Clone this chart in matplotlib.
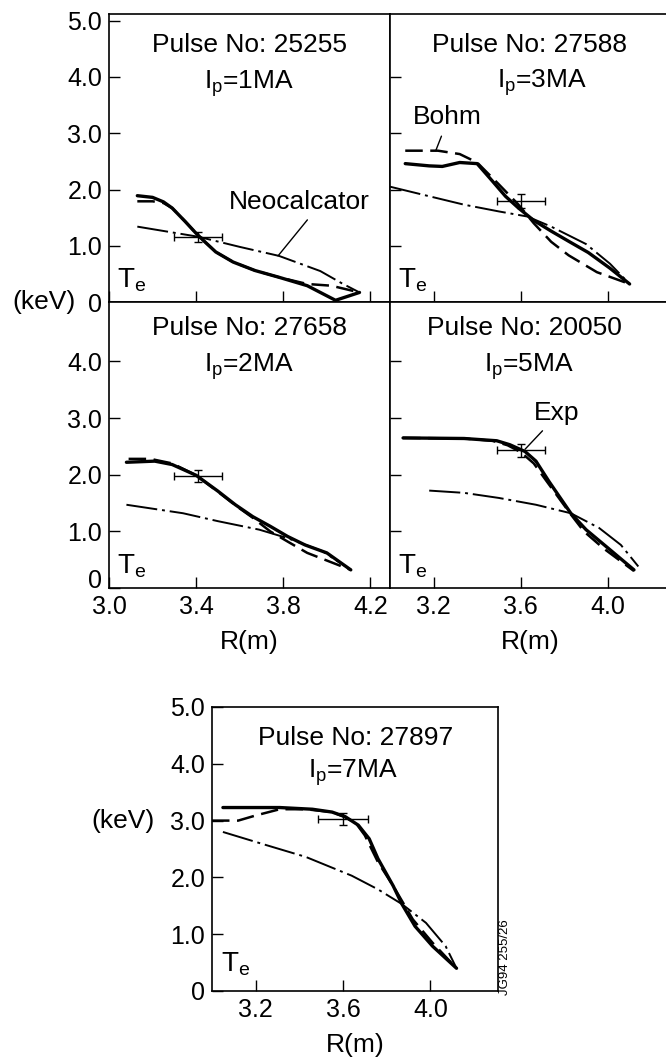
import matplotlib
matplotlib.use('Agg')
import matplotlib.pyplot as plt
import matplotlib.transforms as mtransforms

plt.rcParams['font.family'] = ['Liberation Sans', 'DejaVu Sans']
plt.rcParams['mathtext.fontset'] = 'custom'
plt.rcParams['mathtext.rm'] = 'Liberation Sans'
plt.rcParams['mathtext.it'] = 'Liberation Sans'

# (R [m], Te [keV])
exp_25255 = [(3.13, 1.89), (3.20, 1.86), (3.25, 1.78), (3.29, 1.67), (3.35, 1.43), (3.40, 1.22),
             (3.44, 1.07), (3.49, 0.89), (3.57, 0.71), (3.67, 0.56), (3.78, 0.44), (3.91, 0.29),
             (4.04, 0.03), (4.15, 0.17)]
bohm_25255 = [(3.13, 1.79), (3.20, 1.79), (3.25, 1.76), (3.29, 1.67), (3.35, 1.43), (3.40, 1.22),
              (3.44, 1.07), (3.49, 0.89), (3.57, 0.71), (3.67, 0.56), (3.78, 0.44), (3.91, 0.32),
              (4.02, 0.29), (4.15, 0.17)]
neo_25255 = [(3.13, 1.34), (3.41, 1.16), (3.60, 0.98), (3.78, 0.82), (3.97, 0.55), (4.07, 0.33),
             (4.15, 0.17)]
err_25255 = (3.41, 1.15, 0.11, 0.09)

exp_27588 = [(3.07, 2.46), (3.18, 2.42), (3.24, 2.41), (3.32, 2.48), (3.40, 2.46), (3.47, 2.15),
             (3.53, 1.88), (3.59, 1.67), (3.66, 1.45), (3.74, 1.26), (3.82, 1.08), (3.91, 0.88),
             (4.01, 0.60), (4.10, 0.32)]
bohm_27588 = [(3.07, 2.69), (3.22, 2.69), (3.32, 2.63), (3.40, 2.48), (3.50, 2.09), (3.59, 1.73),
              (3.66, 1.40), (3.74, 1.07), (3.82, 0.83), (3.95, 0.53), (4.10, 0.32)]
neo_27588 = [(3.00, 2.05), (3.18, 1.88), (3.34, 1.73), (3.50, 1.61), (3.63, 1.52), (3.74, 1.34),
             (3.90, 1.03), (4.01, 0.68), (4.10, 0.32)]
err_27588 = (3.60, 1.80, 0.11, 0.12)

exp_27658 = [(3.08, 2.22), (3.21, 2.24), (3.29, 2.18), (3.40, 1.99), (3.50, 1.71), (3.58, 1.47),
             (3.66, 1.26), (3.74, 1.09), (3.82, 0.91), (3.90, 0.76), (4.00, 0.62), (4.11, 0.32)]
bohm_27658 = [(3.09, 2.28), (3.19, 2.28), (3.29, 2.20), (3.40, 1.99), (3.50, 1.70), (3.58, 1.46),
              (3.66, 1.24), (3.74, 1.00), (3.82, 0.82), (3.91, 0.62), (4.01, 0.47), (4.11, 0.32)]
neo_27658 = [(3.08, 1.47), (3.34, 1.32), (3.50, 1.18), (3.69, 1.03), (3.82, 0.88), (3.98, 0.65),
             (4.11, 0.32)]
err_27658 = (3.41, 1.98, 0.11, 0.10)

exp_20050 = [(3.06, 2.65), (3.34, 2.64), (3.49, 2.60), (3.55, 2.53), (3.62, 2.41), (3.67, 2.24),
             (3.73, 1.88), (3.83, 1.32), (3.90, 1.03), (3.99, 0.74), (4.12, 0.32)]
bohm_20050 = [(3.06, 2.65), (3.34, 2.64), (3.47, 2.60), (3.54, 2.52), (3.60, 2.40), (3.66, 2.20),
              (3.72, 1.88), (3.83, 1.30), (3.89, 1.00), (3.98, 0.70), (4.12, 0.30)]
neo_20050 = [(3.18, 1.72), (3.34, 1.68), (3.50, 1.59), (3.67, 1.47), (3.83, 1.32), (3.96, 1.06),
             (4.06, 0.76), (4.14, 0.38)]
err_20050 = (3.60, 2.43, 0.11, 0.11)

exp_27897 = [(3.05, 3.23), (3.31, 3.23), (3.46, 3.20), (3.55, 3.15), (3.61, 3.07), (3.67, 2.92),
             (3.72, 2.68), (3.76, 2.33), (3.83, 1.85), (3.87, 1.53), (3.93, 1.14), (4.01, 0.79),
             (4.12, 0.40)]
bohm_27897 = [(3.00, 3.00), (3.12, 3.00), (3.20, 3.09), (3.31, 3.20), (3.43, 3.20), (3.55, 3.15),
              (3.61, 3.06), (3.66, 2.95), (3.70, 2.74), (3.76, 2.27), (3.83, 1.85), (3.92, 1.26),
              (4.01, 0.85), (4.12, 0.40)]
neo_27897 = [(3.05, 2.80), (3.23, 2.59), (3.43, 2.36), (3.64, 2.03), (3.76, 1.79), (3.87, 1.53),
             (3.98, 1.20), (4.07, 0.79), (4.12, 0.40)]
err_27897 = (3.60, 3.03, 0.115, 0.11)

W, H = 666, 1063
fig = plt.figure(figsize=(W / 100, H / 100), dpi=100)


def add_ax(x0, y0, x1, y1):
    return fig.add_axes([x0 / W, 1 - y1 / H, (x1 - x0) / W, (y1 - y0) / H])


def panel(ax, exp, bohm, neo, err, pulse, ip, title_pos, ip_pos, te_y=0.05):
    for data, kw in ((neo, dict(lw=1.4, dashes=(16, 2.5, 1.5, 2.5))),
                     (bohm, dict(lw=1.8, dashes=(7, 3))),
                     (exp, dict(lw=2.4))):
        r, t = zip(*data)
        ax.plot(r, t, color='black', solid_capstyle='round', solid_joinstyle='round', **kw)
    x, y, xe, ye = err
    ax.errorbar(x, y, xerr=xe, yerr=ye, fmt='none', ecolor='black',
                elinewidth=1.0, capsize=3, capthick=1.0)
    ax.text(title_pos[0], title_pos[1], 'Pulse No: ' + pulse, transform=ax.transAxes,
            ha='center', va='baseline', fontsize=19)
    ax.text(ip_pos[0], ip_pos[1], r'I$_\mathregular{p}$=' + ip + 'MA', transform=ax.transAxes,
            ha='center', va='baseline', fontsize=19)
    ax.text(0.03, te_y, r'T$_\mathregular{e}$', transform=ax.transAxes,
            ha='left', va='baseline', fontsize=20)
    ax.set_xlim(3.0, 4.29)
    ax.tick_params(direction='in', length=8, width=1.0, labelsize=18, pad=5)
    for s in ax.spines.values():
        s.set_linewidth(1.2)


ax1 = add_ax(109, 14, 390, 302)
ax2 = add_ax(390, 14, 671, 302)
ax3 = add_ax(109, 302, 390, 588)
ax4 = add_ax(390, 302, 671, 588)
ax5 = add_ax(212, 707, 498, 991)

panel(ax1, exp_25255, bohm_25255, neo_25255, err_25255, '25255', '1', (0.50, 0.868), (0.50, 0.74))
panel(ax2, exp_27588, bohm_27588, neo_27588, err_27588, '27588', '3', (0.495, 0.868), (0.54, 0.745))
panel(ax3, exp_27658, bohm_27658, neo_27658, err_27658, '27658', '2', (0.50, 0.885), (0.50, 0.757))
panel(ax4, exp_20050, bohm_20050, neo_20050, err_20050, '20050', '5', (0.48, 0.885), (0.495, 0.757))
panel(ax5, exp_27897, bohm_27897, neo_27897, err_27897, '27897', '7', (0.503, 0.866), (0.493, 0.75),
      te_y=0.07)

for ax in (ax1, ax2):
    ax.set_ylim(0, 5.12)
for ax in (ax3, ax4):
    ax.set_ylim(0, 5.05)
ax5.set_ylim(0, 5.0)
ax5.set_xlim(3.0, 4.31)

ax1.set_yticks([0, 1, 2, 3, 4, 5])
ax1.set_yticklabels(['0', '1.0', '2.0', '3.0', '4.0', '5.0'])
ax3.set_yticks([0, 1, 2, 3, 4])
ax3.set_yticklabels(['0', '1.0', '2.0', '3.0', '4.0'])
ax5.set_yticks([0, 1, 2, 3, 4, 5])
ax5.set_yticklabels(['0', '1.0', '2.0', '3.0', '4.0', '5.0'])
for ax in (ax2, ax4):
    ax.set_yticks([1, 2, 3, 4])
    ax.tick_params(labelleft=False)
    ax.spines['right'].set_visible(False)

for ax in (ax1, ax3):
    ax.set_xticks([3.0, 3.4, 3.8, 4.2])
    ax.set_xticklabels(['3.0', '3.4', '3.8', '4.2'])
for ax in (ax2, ax4, ax5):
    ax.set_xticks([3.2, 3.6, 4.0])
    ax.set_xticklabels(['3.2', '3.6', '4.0'])
for ax in (ax1, ax2):
    ax.tick_params(labelbottom=False)

# the "0" of the middle-left panel sits a little above its axis line
zero = ax3.yaxis.get_major_ticks()[0].label1
zero.set_transform(zero.get_transform() + mtransforms.ScaledTranslation(0, 7 / 72, fig.dpi_scale_trans))

for ax in (ax3, ax4, ax5):
    ax.set_xlabel('R(m)', fontsize=19, labelpad=8)

ax1.text(-0.12, 0.0, '(keV)', transform=ax1.transAxes, ha='right', va='center', fontsize=19)
ax5.text(-0.20, 0.6, '(keV)', transform=ax5.transAxes, ha='right', va='center', fontsize=19)

# model labels
ax1.annotate('Neocalcator', xy=(3.776, 0.82), xytext=(3.875, 1.78), ha='center', va='center',
             fontsize=19, arrowprops=dict(arrowstyle='-', lw=1.0, relpos=(0.59, 0.0),
                                          shrinkA=3, shrinkB=0))
ax2.annotate('Bohm', xy=(3.21, 2.69), xytext=(3.264, 3.28), ha='center', va='center',
             fontsize=19, arrowprops=dict(arrowstyle='-', lw=1.0, relpos=(0.45, 0.0),
                                          shrinkA=3, shrinkB=0))
ax4.annotate('Exp', xy=(3.62, 2.45), xytext=(3.767, 3.09), ha='center', va='center',
             fontsize=19, arrowprops=dict(arrowstyle='-', lw=1.0, relpos=(0.3, 0.0),
                                          shrinkA=3, shrinkB=0))

fig.text(505 / W, (H - 995) / H, 'JG94 255/26', rotation=90, ha='center', va='bottom',
         fontsize=9.5)

fig.savefig('out.png', dpi=100)
